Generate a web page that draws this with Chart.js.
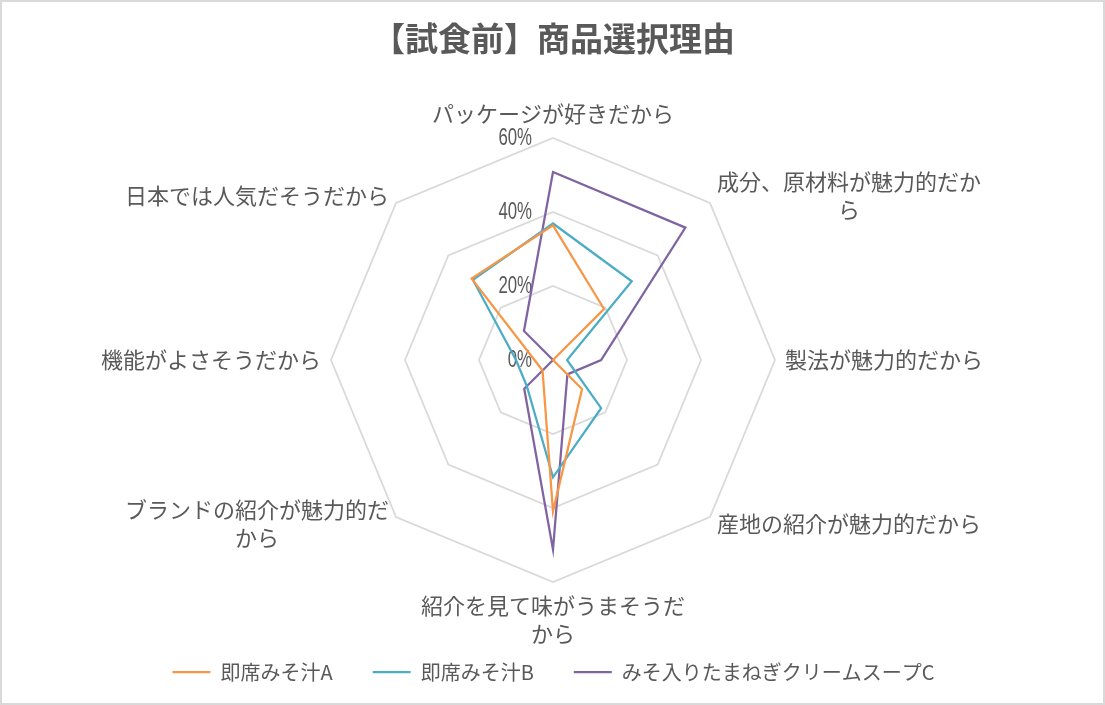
<!DOCTYPE html>
<html>
<head>
<meta charset="utf-8">
<script src="https://cdn.jsdelivr.net/npm/chart.js@4.4.1/dist/chart.umd.min.js"></script>
<style>
  html, body { margin: 0; padding: 0; background: #ffffff; }
  #wrap { width: 1105px; height: 705px; position: relative; }
</style>
</head>
<body>
<div id="wrap"><canvas id="c" width="1105" height="705"></canvas></div>
<script>
const chartTitle = '【試食前】商品選択理由';
const categories = [
  'パッケージが好きだから',
  ['成分、原材料が魅力的だか', 'ら'],
  '製法が魅力的だから',
  '産地の紹介が魅力的だから',
  ['紹介を見て味がうまそうだ', 'から'],
  ['ブランドの紹介が魅力的だ', 'から'],
  '機能がよさそうだから',
  '日本では人気だそうだから'
];
const seriesNames = ['即席みそ汁A', '即席みそ汁B', 'みそ入りたまねぎクリームスープC'];
const seriesA = [36.4, 19.5, 0, 11.1, 40.9, 4, 5, 31.1];
const seriesB = [36.9, 30.1, 3.8, 18.4, 31.7, 10, 10, 30.6];
const seriesC = [50.8, 50.6, 13, 5.5, 51.2, 11, 0, 11.1];
const tickValues = [0, 20, 40, 60];

const colors = ['#F79646', '#4BACC6', '#8064A2'];
const textColor = '#595959';
const gridColor = '#D9D9D9';
const cjk = "'Noto Sans CJK JP', 'Noto Sans', sans-serif";

const excelLabels = {
  id: 'excelLabels',
  beforeDraw(chart) {
    const ctx = chart.ctx;
    ctx.save();
    ctx.fillStyle = '#ffffff';
    ctx.fillRect(0, 0, chart.width, chart.height);
    ctx.strokeStyle = gridColor;
    ctx.lineWidth = 2;
    ctx.strokeRect(1, 1, chart.width - 2, chart.height - 2);
    ctx.restore();
  },
  beforeDatasetsDraw(chart) {
    const s = chart.scales.r;
    const ctx = chart.ctx;
    ctx.save();
    ctx.font = "24px 'Liberation Sans Narrow', 'Liberation Sans', sans-serif";
    ctx.fillStyle = textColor;
    ctx.textAlign = 'right';
    ctx.textBaseline = 'middle';
    tickValues.forEach(v => {
      const y = s.yCenter - s.getDistanceFromCenterForValue(v);
      ctx.save();
      ctx.translate(s.xCenter - 21, y);
      ctx.scale(0.7, 1);
      ctx.fillText(v + '%', 0, 0);
      ctx.restore();
    });
    ctx.restore();
  },
  afterDraw(chart) {
    const s = chart.scales.r;
    const ctx = chart.ctx;
    const lh = 28;
    ctx.save();
    ctx.font = '22px ' + cjk;
    ctx.fillStyle = textColor;
    ctx.textAlign = 'center';
    ctx.textBaseline = 'middle';
    categories.forEach((lab, i) => {
      const lines = Array.isArray(lab) ? lab : [lab];
      const p = s.getPointPosition(i, s.drawingArea + 10);
      const dx = p.x - s.xCenter, dy = p.y - s.yCenter;
      const w = Math.max(...lines.map(l => ctx.measureText(l).width));
      const h = lines.length * lh;
      let left, top;
      if (Math.abs(dx) < 1) left = p.x - w / 2; else if (dx > 0) left = p.x; else left = p.x - w;
      if (Math.abs(dx) < 1) top = dy < 0 ? p.y - h : p.y; else top = p.y - h / 2;
      lines.forEach((l, j) => ctx.fillText(l, left + w / 2, top + lh * (j + 0.5)));
    });
    ctx.restore();
  }
};

const seriesData = [seriesA, seriesB, seriesC];
new Chart(document.getElementById('c'), {
  type: 'radar',
  data: {
    labels: categories,
    datasets: seriesNames.map((n, k) => ({
      label: n,
      data: seriesData[k],
      borderColor: colors[k],
      backgroundColor: colors[k],
      borderWidth: 2.25,
      pointRadius: 0,
      pointHoverRadius: 0,
      fill: false,
      tension: 0
    }))
  },
  options: {
    responsive: false,
    animation: false,
    devicePixelRatio: 1,
    layout: { padding: { top: 0, bottom: 13, left: 2, right: 0 } },
    plugins: {
      title: {
        display: true,
        text: chartTitle,
        color: textColor,
        font: { family: cjk, size: 33, weight: 'bold', lineHeight: 1.2 },
        padding: { top: 19, bottom: 79 }
      },
      legend: {
        display: true,
        position: 'bottom',
        title: { display: true, text: '', font: { size: 10, lineHeight: 1 }, padding: { top: 0, bottom: 29 } },
        labels: {
          color: textColor,
          font: { family: cjk, size: 20 },
          usePointStyle: true,
          pointStyle: 'line',
          pointStyleWidth: 38,
          padding: 40
        }
      },
      tooltip: { enabled: false }
    },
    scales: {
      r: {
        min: 0,
        max: 60,
        ticks: { stepSize: 20, display: false },
        grid: { color: gridColor, lineWidth: 1.75, circular: false },
        angleLines: { display: false },
        pointLabels: { display: false }
      }
    }
  },
  plugins: [excelLabels]
});
</script>
</body>
</html>
